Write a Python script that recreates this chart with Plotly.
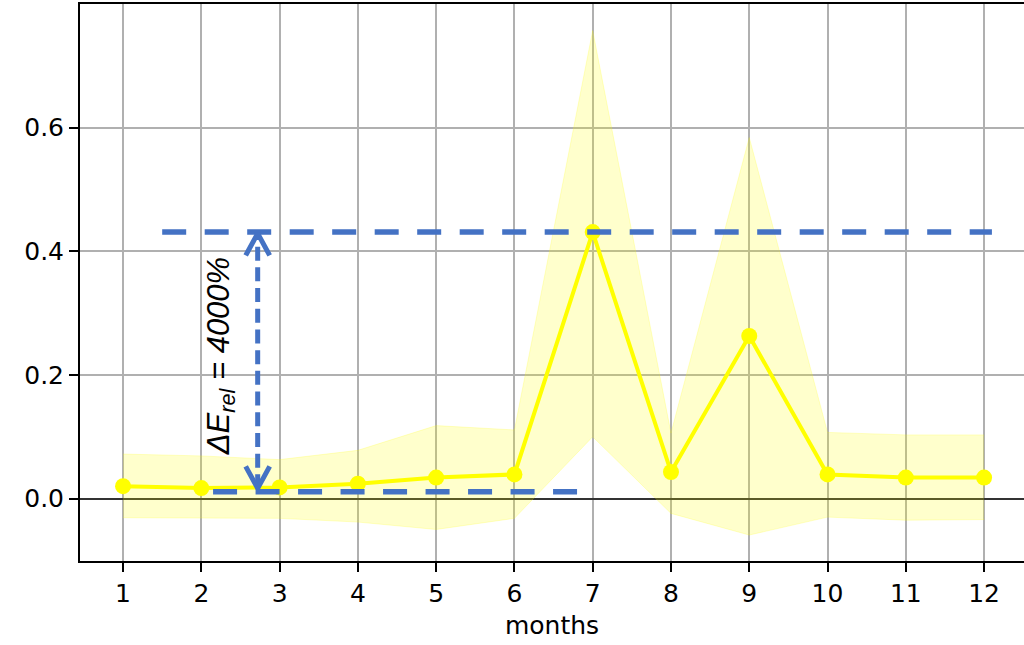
import plotly.graph_objects as go

# Monthly relative error: mean value with its spread band
months = list(range(1, 13))
mean_err = [0.020, 0.017, 0.018, 0.024, 0.034, 0.039, 0.431, 0.043, 0.263, 0.039, 0.034, 0.034]
band_low = [-0.031, -0.032, -0.032, -0.038, -0.050, -0.032, 0.100, -0.024, -0.059, -0.030, -0.035, -0.034]
band_high = [0.072, 0.069, 0.063, 0.078, 0.118, 0.111, 0.757, 0.106, 0.584, 0.107, 0.103, 0.103]

# Reference levels for the annotation
level_low = 0.011
level_high = 0.431
low_span = [2.15, 6.8]
high_span = [1.5, 12.1]
arrow_x = 2.72
label_text = "<i>ΔE<sub>rel</sub> = 4000%</i>"
label_pos = (2.25, 0.230)

y_ticks = [0.0, 0.2, 0.4, 0.6]
y_tick_text = ["0.0", "0.2", "0.4", "0.6"]

# Figure geometry
W, H = 1024, 645
margin = dict(l=80, r=0, t=4, b=84)
x_range = [0.45, 12.51]
y_range = [-0.101, 0.800]
px_x = (W - margin["l"] - margin["r"]) / (x_range[1] - x_range[0])
px_y = (H - margin["t"] - margin["b"]) / (y_range[1] - y_range[0])

BLUE = "#4472c4"
YELLOW = "#ffff00"
BAND = "rgba(255,255,0,0.2)"

fig = go.Figure()

# spread band
fig.add_trace(go.Scatter(x=months, y=band_low, mode="lines",
                         line=dict(color=BAND, width=1), showlegend=False, hoverinfo="skip"))
fig.add_trace(go.Scatter(x=months, y=band_high, mode="lines", fill="tonexty",
                         fillcolor=BAND, line=dict(color=BAND, width=1),
                         showlegend=False, hoverinfo="skip"))

# mean curve
fig.add_trace(go.Scatter(x=months, y=mean_err, mode="lines+markers",
                         line=dict(color=YELLOW, width=4),
                         marker=dict(color=YELLOW, size=16),
                         showlegend=False))

# dashed reference levels
dash_h = "24px,18.5px"
fig.add_trace(go.Scatter(x=high_span, y=[level_high, level_high], mode="lines",
                         line=dict(color=BLUE, width=5.5, dash=dash_h), showlegend=False))
fig.add_trace(go.Scatter(x=low_span, y=[level_low, level_low], mode="lines",
                         line=dict(color=BLUE, width=5.5, dash=dash_h), showlegend=False))

# double-headed dashed arrow between the two levels
tip_top = level_high - 1.3 / px_y
tip_bot = level_low + 3.4 / px_y
head_dx = 12 / px_x
head_dy = 22 / px_y
fig.add_trace(go.Scatter(x=[arrow_x, arrow_x], y=[tip_bot, tip_top], mode="lines",
                         line=dict(color=BLUE, width=5, dash="14px,6.7px"), showlegend=False))
fig.add_trace(go.Scatter(x=[arrow_x - head_dx, arrow_x, arrow_x + head_dx],
                         y=[tip_top - head_dy, tip_top, tip_top - head_dy], mode="lines",
                         line=dict(color=BLUE, width=5), showlegend=False))
fig.add_trace(go.Scatter(x=[arrow_x - head_dx, arrow_x, arrow_x + head_dx],
                         y=[tip_bot + head_dy, tip_bot, tip_bot + head_dy], mode="lines",
                         line=dict(color=BLUE, width=5), showlegend=False))

fig.add_annotation(x=label_pos[0], y=label_pos[1], text=label_text, textangle=-90,
                   showarrow=False, xanchor="center", yanchor="middle",
                   font=dict(family="Liberation Sans, Arial, sans-serif", size=31, color="black"))

tick_font = dict(family="DejaVu Sans", size=25, color="black")
fig.update_xaxes(range=x_range, tickmode="array", tickvals=months,
                 ticktext=[str(m) for m in months],
                 showgrid=True, gridcolor="#b0b0b0", gridwidth=2,
                 showline=True, linecolor="black", linewidth=2, mirror=True,
                 ticks="outside", ticklen=9, tickwidth=2, tickcolor="black",
                 tickfont=tick_font, zeroline=False,
                 title=dict(text="months", font=tick_font, standoff=9))
fig.update_yaxes(range=y_range, tickmode="array", tickvals=y_ticks, ticktext=y_tick_text,
                 showgrid=True, gridcolor="#b0b0b0", gridwidth=2,
                 showline=True, linecolor="black", linewidth=2, mirror=False,
                 ticks="outside", ticklen=9, tickwidth=2, tickcolor="black",
                 tickfont=tick_font, zeroline=True, zerolinecolor="#333333", zerolinewidth=2)

fig.update_layout(width=W, height=H, margin=margin, autosize=False,
                  plot_bgcolor="white", paper_bgcolor="white", showlegend=False)

fig.write_html("out.html", config={"displayModeBar": False})
